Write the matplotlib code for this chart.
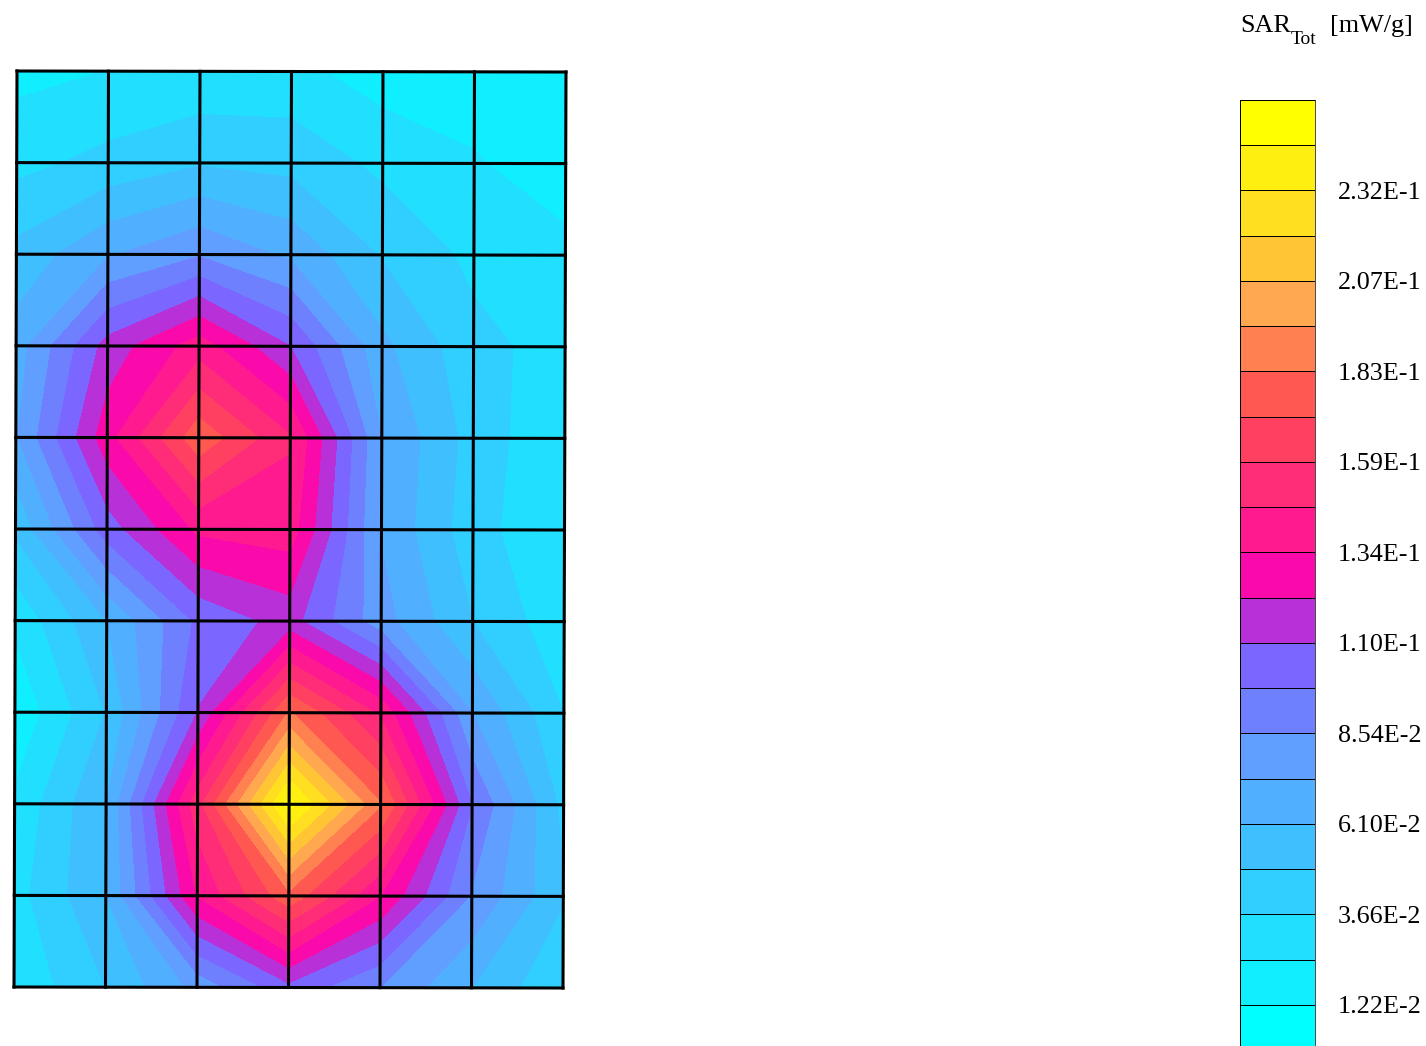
import numpy as np
import matplotlib
matplotlib.use('Agg')
import matplotlib.pyplot as plt

plt.rcParams['font.family'] = ['Liberation Serif', 'DejaVu Serif']

W, H = 1426, 1046

# one band of the legend is this wide, in mW/g
band_width = 0.0122

# node values, in legend bands, rows from the top
row00 = [1.7, 2.02, 2.2, 2.3, 1.5, 1.45, 1.3]
row01 = [2.7, 3.3, 3.9, 3.67, 2.75, 2.1, 1.4]
row02 = [4.3, 5.9, 6.9, 5.8, 3.9, 2.75, 2.3]
row03 = [5.5, 9.4, 11.5, 9.0, 5.25, 3.3, 2.6]
row04 = [5.9, 10.6, 14.7, 12.1, 6.0, 3.6, 2.07]
row05 = [4.2, 8.5, 11.2, 11.5, 5.9, 3.4, 2.05]
row06 = [2.2, 5.0, 8.2, 9.4, 6.4, 4.0, 2.3]
row07 = [1.2, 4.05, 9.05, 15.1, 11.8, 6.0, 3.0]
row08 = [2.2, 5.0, 12.6, 20.4, 15.1, 8.0, 3.7]
row09 = [2.6, 5.0, 11.05, 14.7, 11.0, 6.9, 4.1]
row10 = [2.2, 4.0, 6.3, 8.7, 7.0, 5.0, 3.1]

sar = np.array([row00, row01, row02, row03, row04, row05, row06,
                row07, row08, row09, row10]) * band_width

band_colors = ['#00FFFF', '#10EFFF', '#20DFFF', '#30CFFF', '#40BFFF', '#50AFFF', '#609FFF',
               '#6F80FF', '#7B66FF', '#B830D8', '#FA0AAA', '#FF1A90', '#FF2D78', '#FF4060',
               '#FF5850', '#FF8050', '#FFA850', '#FFC535', '#FFDF20', '#FFEF10', '#FFFF00']
levels = np.arange(len(band_colors) + 1) * band_width

tick_levels = levels[1:20:2]
tick_labels = ['1.22E-2', '3.66E-2', '6.10E-2', '8.54E-2', '1.10E-1',
               '1.34E-1', '1.59E-1', '1.83E-1', '2.07E-1', '2.32E-1']

fig = plt.figure(figsize=(W / 100, H / 100), dpi=100)


def add_px_axes(left, top, right, bottom):
    return fig.add_axes([left / W, 1 - bottom / H, (right - left) / W, (bottom - top) / H])


# field, the mesh leans a little
ax = add_px_axes(14, 71, 566, 988)
rows, cols = np.indices(sar.shape)
lean_x = -3 / 91.5 / 10
lean_y = 1 / 91.6 / 6
X = cols + lean_x * rows
Y = rows + lean_y * cols
ax.contourf(X, Y, sar, levels=levels, colors=band_colors, antialiased=False)
for i in range(sar.shape[0]):
    ax.plot(X[i], Y[i], color='k', lw=2.2, clip_on=False, solid_capstyle='projecting')
for j in range(sar.shape[1]):
    ax.plot(X[:, j], Y[:, j], color='k', lw=2.2, clip_on=False, solid_capstyle='projecting')
ax.set_xlim(X.min(), X.max())
ax.set_ylim(Y.max(), Y.min())
ax.axis('off')

# legend, its lower end runs off the page
cax = add_px_axes(1239.5, 100, 1315, 1050)
cax.pcolormesh([0, 1], levels, np.arange(len(band_colors)).reshape(-1, 1),
               cmap=matplotlib.colors.ListedColormap(band_colors),
               edgecolors='k', linewidth=0.5)
cax.set_xlim(0, 1)
cax.set_ylim(levels[0], levels[-1])
cax.set_xticks([])
cax.yaxis.tick_right()
cax.set_yticks(tick_levels)
cax.set_yticklabels(tick_labels, fontsize=18.8)
cax.tick_params(axis='y', length=0, pad=16.5)
for spine in cax.spines.values():
    spine.set_linewidth(0.5)

fig.text(1240 / W, 1 - 26 / H, 'SAR', fontsize=18.8, va='center', ha='left')
fig.text(1291 / W, 1 - 40 / H, 'Tot', fontsize=14, va='center', ha='left')
fig.text(1330 / W, 1 - 26 / H, '[mW/g]', fontsize=18.8, va='center', ha='left')

fig.savefig('out.png', dpi=100)
